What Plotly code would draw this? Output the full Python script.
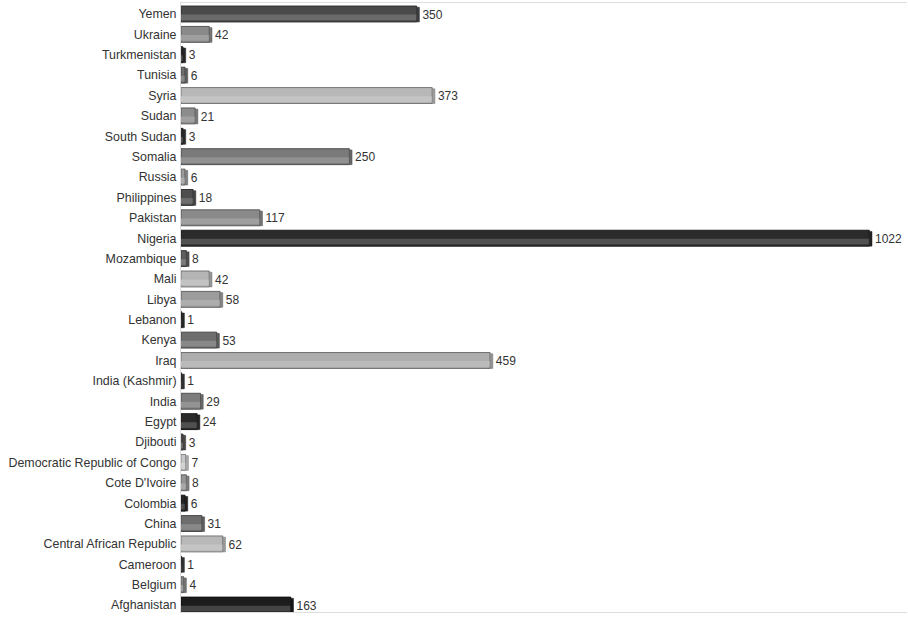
import plotly.graph_objects as go

countries = ["Afghanistan", "Belgium", "Cameroon", "Central African Republic", "China",
             "Colombia", "Cote D'Ivoire", "Democratic Republic of Congo", "Djibouti", "Egypt",
             "India", "India (Kashmir)", "Iraq", "Kenya", "Lebanon", "Libya", "Mali",
             "Mozambique", "Nigeria", "Pakistan", "Philippines", "Russia", "Somalia",
             "South Sudan", "Sudan", "Syria", "Tunisia", "Turkmenistan", "Ukraine", "Yemen"]
values = [163, 4, 1, 62, 31, 6, 8, 7, 3, 24, 29, 1, 459, 53, 1, 58, 42, 8, 1022, 117,
          18, 6, 250, 3, 21, 373, 6, 3, 42, 350]

# styling (per-bar shades)
base_colors = ["#1c1c1c", "#8a8a8a", "#3c3c3c", "#b8b8b8", "#6e6e6e",
               "#262626", "#959595", "#c8c8c8", "#555555", "#2a2a2a",
               "#7c7c7c", "#3a3a3a", "#adadad", "#6e6e6e", "#303030",
               "#9c9c9c", "#b5b5b5", "#5e5e5e", "#2b2b2b", "#8a8a8a",
               "#4e4e4e", "#9a9a9a", "#7a7a7a", "#333333", "#8c8c8c",
               "#b8b8b8", "#6e6e6e", "#2e2e2e", "#8a8a8a", "#4a4a4a"]


def shade(hexc, f):
    h = hexc.lstrip("#")
    r, g, b = int(h[0:2], 16), int(h[2:4], 16), int(h[4:6], 16)
    if f >= 0:
        r, g, b = [int(c + (255 - c) * f) for c in (r, g, b)]
    else:
        r, g, b = [int(c * (1 + f)) for c in (r, g, b)]
    return "#%02x%02x%02x" % (r, g, b)


light_colors = [shade(c, 0.18) for c in base_colors]
dark_colors = [shade(c, -0.35) for c in base_colors]
side_colors = [shade(c, -0.15) for c in base_colors]

FONT = "Liberation Sans, Arial, sans-serif"
DEPTH = 4  # visual depth of the 3D side face, in axis units

fig = go.Figure()
fig.add_trace(go.Bar(
    y=countries, x=values, orientation="h", width=0.78,
    marker=dict(color=base_colors, line=dict(color=dark_colors, width=1)),
    hoverinfo="x+y", showlegend=False,
))
fig.add_trace(go.Bar(
    y=countries, x=values, orientation="h", width=0.28, offset=-0.31,
    marker=dict(color=light_colors, line=dict(width=0)),
    hoverinfo="skip", showlegend=False,
))
fig.add_trace(go.Bar(
    y=countries, x=[DEPTH] * len(values), base=values, orientation="h",
    width=0.72, offset=-0.39,
    marker=dict(color=side_colors, line=dict(color=dark_colors, width=0.5)),
    text=[str(v) for v in values], textposition="outside",
    textfont=dict(family=FONT, size=12, color="#333333"),
    cliponaxis=False, hoverinfo="skip", showlegend=False,
))

fig.update_layout(
    width=908, height=623,
    margin=dict(l=181, r=1, t=3, b=11),
    paper_bgcolor="white", plot_bgcolor="white",
    barmode="overlay",
    font=dict(family=FONT, size=12, color="#333333"),
    xaxis=dict(range=[0, 1078], showgrid=False, zeroline=False, showticklabels=False,
               showline=True, linecolor="#dddddd", linewidth=1, mirror=True, ticks=""),
    yaxis=dict(range=[-0.34, 29.54], showgrid=False, zeroline=False,
               showline=True, linecolor="#dddddd", linewidth=1, ticks="",
               ticklabelstandoff=1,
               categoryorder="array", categoryarray=countries,
               tickfont=dict(family=FONT, size=12.4, color="#333333")),
)

fig.write_html("out.html", config={"displayModeBar": False},
               post_script="document.body.style.margin='0';")
